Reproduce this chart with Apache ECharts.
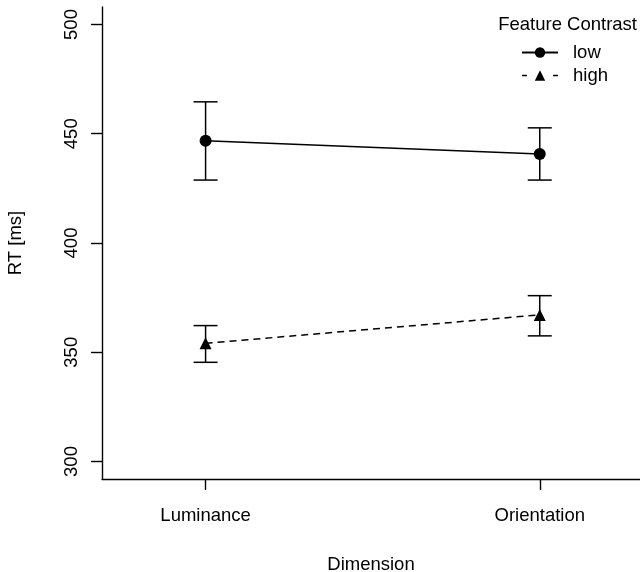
<!DOCTYPE html>
<html>
<head>
<meta charset="utf-8">
<script src="https://cdn.jsdelivr.net/npm/echarts@6/dist/echarts.min.js"></script>
<style>html,body{margin:0;padding:0;background:#fff}#c{width:640px;height:572px}</style>
</head>
<body>
<div id="c"></div>
<script>
var categories = ['Luminance', 'Orientation'];
var xPositions = [1, 2];
var seriesNames = ['low', 'high'];
var lowMean = [446.8, 440.7];
var lowLower = [428.8, 428.8];
var lowUpper = [464.6, 452.7];
var highMean = [354.1, 367.1];
var highLower = [345.4, 357.5];
var highUpper = [362.2, 375.9];
var yTicks = [300, 350, 400, 450, 500];

var FONT = 'Liberation Sans, Arial, sans-serif';
var FS = 18.5;
var chart = echarts.init(document.getElementById('c'), null, {renderer: 'canvas'});

function pts(m) { return xPositions.map(function (x, i) { return [x, m[i]]; }); }
function errData(lo, hi) { return xPositions.map(function (x, i) { return [x, lo[i], hi[i]]; }); }

function errRender(params, api) {
  var x = api.value(0);
  var lo = api.coord([x, api.value(1)]);
  var hi = api.coord([x, api.value(2)]);
  var hw = 12;
  var st = {stroke: '#000', lineWidth: 1.5};
  return {
    type: 'group',
    children: [
      {type: 'line', shape: {x1: lo[0], y1: lo[1], x2: hi[0], y2: hi[1]}, style: st},
      {type: 'line', shape: {x1: lo[0] - hw, y1: lo[1], x2: lo[0] + hw, y2: lo[1]}, style: st},
      {type: 'line', shape: {x1: hi[0] - hw, y1: hi[1], x2: hi[0] + hw, y2: hi[1]}, style: st}
    ]
  };
}

var option = {
  backgroundColor: '#fff',
  animation: false,
  textStyle: {fontFamily: FONT},
  grid: {left: 102, right: 0, top: 7, bottom: 93, containLabel: false, outerBoundsMode: 'none'},
  title: {
    text: 'Feature Contrast', right: 3, top: 15, padding: 0,
    textStyle: {fontFamily: FONT, fontSize: FS, fontWeight: 'normal', color: '#000'}
  },
  legend: {
    orient: 'vertical', left: 521, top: 43, itemGap: 4, padding: 0,
    itemWidth: 36, itemHeight: 13,
    textStyle: {fontFamily: FONT, fontSize: FS, color: '#000', padding: [0, 0, 0, 10]},
    data: [
      {name: seriesNames[0]},
      {name: seriesNames[1], lineStyle: {type: [5, 26], width: 1.5}}
    ]
  },
  xAxis: {
    type: 'value', min: 0.69, max: 2.3,
    name: 'Dimension', nameLocation: 'middle', nameGap: 76,
    nameTextStyle: {fontFamily: FONT, fontSize: FS, color: '#000'},
    axisLine: {show: true, onZero: false, lineStyle: {color: '#000', width: 1.4}},
    axisTick: {show: true, length: 11, customValues: xPositions, lineStyle: {color: '#000', width: 1.4}},
    axisLabel: {
      customValues: xPositions, margin: 27, color: '#000', fontFamily: FONT, fontSize: FS,
      formatter: function (v) { var i = xPositions.indexOf(v); return i >= 0 ? categories[i] : ''; }
    },
    splitLine: {show: false}
  },
  yAxis: {
    type: 'value', min: 292, max: 508,
    name: 'RT [ms]', nameLocation: 'middle', nameGap: 77, nameRotate: 90,
    nameTextStyle: {fontFamily: FONT, fontSize: FS, color: '#000'},
    axisLine: {show: true, onZero: false, lineStyle: {color: '#000', width: 1.4}},
    axisTick: {show: true, length: 11, customValues: yTicks, lineStyle: {color: '#000', width: 1.4}},
    axisLabel: {customValues: yTicks, rotate: 90, margin: 21, color: '#000', fontFamily: FONT, fontSize: FS},
    splitLine: {show: false}
  },
  series: [
    {
      type: 'custom', name: 'lowErr', renderItem: errRender, data: errData(lowLower, lowUpper),
      encode: {x: 0, y: [1, 2]}, z: 2, silent: true
    },
    {
      type: 'custom', name: 'highErr', renderItem: errRender, data: errData(highLower, highUpper),
      encode: {x: 0, y: [1, 2]}, z: 2, silent: true
    },
    {
      type: 'line', name: 'low', data: pts(lowMean), symbol: 'circle', symbolSize: 12,
      showAllSymbol: true,
      itemStyle: {color: '#000'}, lineStyle: {color: '#000', width: 1.5, type: 'solid'}, z: 3
    },
    {
      type: 'line', name: 'high', data: pts(highMean), symbol: 'triangle', symbolSize: 12,
      showAllSymbol: true,
      itemStyle: {color: '#000'}, lineStyle: {color: '#000', width: 1.5, type: [7, 5]}, z: 3
    }
  ]
};
chart.setOption(option);
</script>
</body>
</html>
